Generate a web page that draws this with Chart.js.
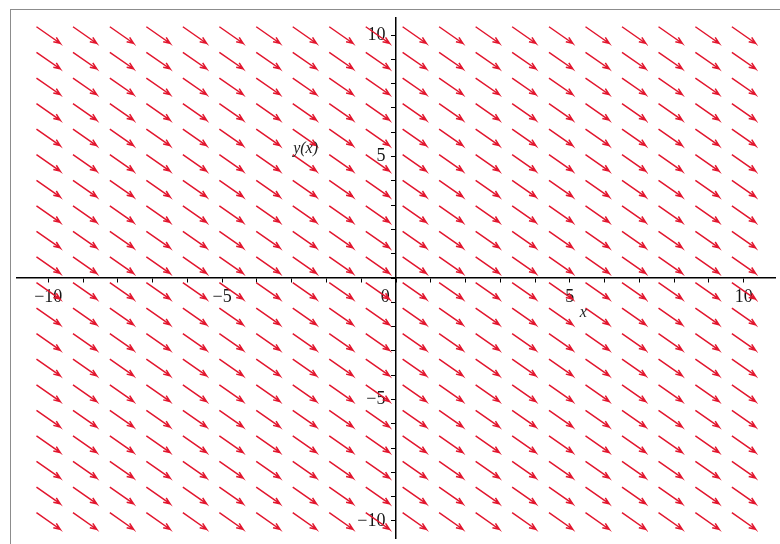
<!DOCTYPE html>
<html lang="en">
<head>
    <meta charset="UTF-8">
    <title>Direction field</title>
    <script src="https://cdn.jsdelivr.net/npm/chart.js"></script>
    <style>
        html, body { margin: 0; background: #fff; overflow: hidden; }
        .moldura {
            position: absolute; left: 10px; top: 9px; width: 770px; height: 535px;
            border-left: 1px solid #8c8c8c; border-top: 1px solid #8c8c8c;
        }
        #campo { position: absolute; left: 0; top: 0; }
    </style>
</head>
<body>
<div class="moldura"></div>
<canvas id="campo" width="780" height="544"></canvas>
<script>
    // grid of arrow centres (20 x 20)
    const gradeX = [-10, -8.95, -7.89, -6.84, -5.79, -4.74, -3.68, -2.63, -1.58, -0.53,
                    0.53, 1.58, 2.63, 3.68, 4.74, 5.79, 6.84, 7.89, 8.95, 10];
    const gradeY = [10, 8.95, 7.89, 6.84, 5.79, 4.74, 3.68, 2.63, 1.58, 0.53,
                    -0.53, -1.58, -2.63, -3.68, -4.74, -5.79, -6.84, -7.89, -8.95, -10];
    const inclinacao = -1;      // dy/dx, same everywhere in the field
    const marcasEixo = [-10, -9, -8, -7, -6, -5, -4, -3, -2, -1, 0,
                        1, 2, 3, 4, 5, 6, 7, 8, 9, 10];
    const rotulosEixo = [-10, -5, 0, 5, 10];

    const meioComprimento = 0.34; // half of the arrow's x extent, data units
    const pxX = 34.8, pxY = 24.3; // rough px per unit, only for the arrow heads
    const cabeca = 7, abertura = 22 * Math.PI / 180;

    function montarSetas() {
        const pts = [];
        gradeX.forEach(cx => {
            gradeY.forEach(cy => {
                const dx = meioComprimento, dy = inclinacao * meioComprimento;
                const cauda = { x: cx - dx, y: cy - dy };
                const ponta = { x: cx + dx, y: cy + dy };
                // head barbs worked out in screen space
                const ux = 2 * dx * pxX, uy = -2 * dy * pxY;
                const n = Math.hypot(ux, uy);
                const bx = -ux / n, by = -uy / n;
                const barba = ang => {
                    const rx = bx * Math.cos(ang) - by * Math.sin(ang);
                    const ry = bx * Math.sin(ang) + by * Math.cos(ang);
                    return { x: ponta.x + rx * cabeca / pxX, y: ponta.y - ry * cabeca / pxY };
                };
                pts.push(cauda, ponta, barba(abertura), { x: cx, y: NaN });
                pts.push(ponta, barba(-abertura), { x: cx, y: NaN });
            });
        });
        return pts;
    }

    function rotuloX(v) {
        if (!rotulosEixo.includes(v)) return '';
        if (v === 0) return '0\u2002\u2002\u2009';
        return v < 0 ? '\u2212' + Math.abs(v) : String(v);
    }

    // centred y axis ignores ticks.padding, so the gap comes from trailing spaces
    function rotuloY(v) {
        if (!rotulosEixo.includes(v) || v === 0) return '';
        const txt = v < 0 ? '\u2212' + Math.abs(v) : String(v);
        return txt + '\u2002\u200A';
    }

    const titulosEixos = {
        id: 'titulosEixos',
        afterDraw(chart) {
            const { ctx, scales } = chart;
            ctx.save();
            ctx.fillStyle = '#222';
            ctx.font = 'italic 16px "Liberation Serif"';
            ctx.textAlign = 'center';
            ctx.textBaseline = 'middle';
            ctx.fillText('x', scales.x.getPixelForValue(5.39), scales.y.getPixelForValue(-1.45));
            ctx.fillText('y(x)', scales.x.getPixelForValue(-2.6), scales.y.getPixelForValue(5.33));
            ctx.restore();
        }
    };

    const fonteTicks = { family: 'Liberation Serif', size: 18 };

    new Chart(document.getElementById('campo'), {
        type: 'scatter',
        data: {
            datasets: [{
                data: montarSetas(),
                showLine: true,
                spanGaps: false,
                borderColor: '#e2162e',
                borderWidth: 1.5,
                pointRadius: 0,
                pointHoverRadius: 0
            }]
        },
        options: {
            responsive: false,
            animation: false,
            layout: { padding: { left: 17, right: 5, top: 18, bottom: 6 } },
            plugins: { legend: { display: false }, tooltip: { enabled: false } },
            scales: {
                x: {
                    type: 'linear', min: -10.9, max: 10.9,
                    position: { y: 0 },
                    // axes sit inside the area, so they take no room
                    afterFit: s => { s.height = 0; s.paddingLeft = 0; s.paddingRight = 0; },
                    afterBuildTicks: s => { s.ticks = marcasEixo.map(v => ({ value: v })); },
                    grid: { drawOnChartArea: false, drawTicks: true, tickLength: 4, color: '#000' },
                    border: { color: '#000', width: 1.5 },
                    ticks: { autoSkip: false, maxRotation: 0, padding: 4,
                             color: '#151515', font: fonteTicks, callback: v => rotuloX(v) }
                },
                y: {
                    type: 'linear', min: -10.7, max: 10.7,
                    position: { x: 0 },
                    afterFit: s => { s.width = 0; s.paddingTop = 0; s.paddingBottom = 0; },
                    afterBuildTicks: s => { s.ticks = marcasEixo.map(v => ({ value: v })); },
                    grid: { drawOnChartArea: false, drawTicks: true, tickLength: 4, color: '#000' },
                    border: { color: '#000', width: 1.5 },
                    ticks: { autoSkip: false, padding: 0,
                             color: '#151515', font: fonteTicks, callback: v => rotuloY(v) }
                }
            }
        },
        plugins: [titulosEixos]
    });
</script>
</body>
</html>
